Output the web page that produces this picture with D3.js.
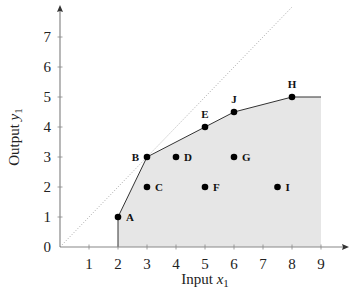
<!DOCTYPE html>
<html><head><meta charset="utf-8">
<script src="https://cdn.jsdelivr.net/npm/d3@7"></script>
<style>body{margin:0;background:#fff}svg{display:block}text{font-family:"Liberation Serif","DejaVu Serif",serif}</style>
</head><body><svg id="c" width="355" height="291"></svg>
<script>
const names = ["A","B","C","D","E","F","G","H","I","J"];
const xs = [2,3,3,4,5,5,6,8,7.5,6];
const ys = [1,3,2,3,4,2,3,5,2,4.5];
const labelPos = ["right","left","right","right","above","right","right","above","right","above"];
const frontierX = [2,2,3,5,6,8,9];
const frontierY = [0,1,3,4,4.5,5,5];
const xTicks = [1,2,3,4,5,6,7,8,9];
const yTicks = [0,1,2,3,4,5,6,7];

const svg = d3.select("#c");
const x = d3.scaleLinear().domain([0,9]).range([60,321]);
const y = d3.scaleLinear().domain([0,7]).range([247,37]);
const fr = frontierX.map((v,i)=>[v,frontierY[i]]);

svg.append("path")
  .datum(fr.concat([[9,0]]))
  .attr("d", d3.line().x(d=>x(d[0])).y(d=>y(d[1])))
  .attr("fill","#e6e6e6").attr("stroke","none");

svg.append("line").attr("x1",x(0)).attr("y1",y(0)).attr("x2",x(8)).attr("y2",y(8))
  .attr("stroke","#777").attr("stroke-width",0.8).attr("stroke-dasharray","0.8,2");

svg.append("path").datum(fr)
  .attr("d", d3.line().x(d=>x(d[0])).y(d=>y(d[1])))
  .attr("fill","none").attr("stroke","#333").attr("stroke-width",1);

const ax = "#888";
svg.append("line").attr("x1",x(0)).attr("y1",y(0)).attr("x2",344).attr("y2",y(0)).attr("stroke",ax).attr("stroke-width",1.2);
svg.append("path").attr("d",`M349,${y(0)} L342,${y(0)-3} L343,${y(0)} L342,${y(0)+3}Z`).attr("fill","#333");
svg.append("line").attr("x1",x(0)).attr("y1",y(0)).attr("x2",x(0)).attr("y2",10).attr("stroke",ax).attr("stroke-width",1.2);
svg.append("path").attr("d",`M${x(0)},5 L${x(0)-3},12 L${x(0)},11 L${x(0)+3},12Z`).attr("fill","#333");

xTicks.forEach(t=>{
  svg.append("line").attr("x1",x(t)).attr("x2",x(t)).attr("y1",y(0)-2.5).attr("y2",y(0)+2.5).attr("stroke",ax).attr("stroke-width",0.8);
  svg.append("text").attr("x",x(t)).attr("y",y(0)+22).attr("text-anchor","middle").attr("font-size",15).attr("fill","#222").text(t);
});
yTicks.forEach(t=>{
  if(t>0) svg.append("line").attr("x1",x(0)-2.5).attr("x2",x(0)+2.5).attr("y1",y(t)).attr("y2",y(t)).attr("stroke",ax).attr("stroke-width",0.8);
  svg.append("text").attr("x",x(0)-9).attr("y",y(t)+5).attr("text-anchor","end").attr("font-size",15).attr("fill","#222").text(t);
});

const tx = svg.append("text").attr("x",205).attr("y",284).attr("text-anchor","middle").attr("font-size",15).attr("fill","#222");
tx.append("tspan").text("Input ");
tx.append("tspan").attr("font-style","italic").text("x");
tx.append("tspan").attr("font-size",11).attr("dy",3).text("1");
const ty = svg.append("text").attr("transform","translate(19,137) rotate(-90)").attr("text-anchor","middle").attr("font-size",15).attr("fill","#222");
ty.append("tspan").text("Output ");
ty.append("tspan").attr("font-style","italic").text("y");
ty.append("tspan").attr("font-size",11).attr("dy",3).text("1");

names.forEach((n,i)=>{
  const px=x(xs[i]), py=y(ys[i]);
  svg.append("circle").attr("cx",px).attr("cy",py).attr("r",3.3).attr("fill","#000");
  const lp=labelPos[i];
  const t=svg.append("text").attr("font-size",11).attr("font-weight","bold").attr("fill","#111").text(n);
  if(lp==="right") t.attr("x",px+8).attr("y",py+4);
  else if(lp==="left") t.attr("x",px-8).attr("y",py+4).attr("text-anchor","end");
  else t.attr("x",px).attr("y",py-9).attr("text-anchor","middle");
});
</script></body></html>
